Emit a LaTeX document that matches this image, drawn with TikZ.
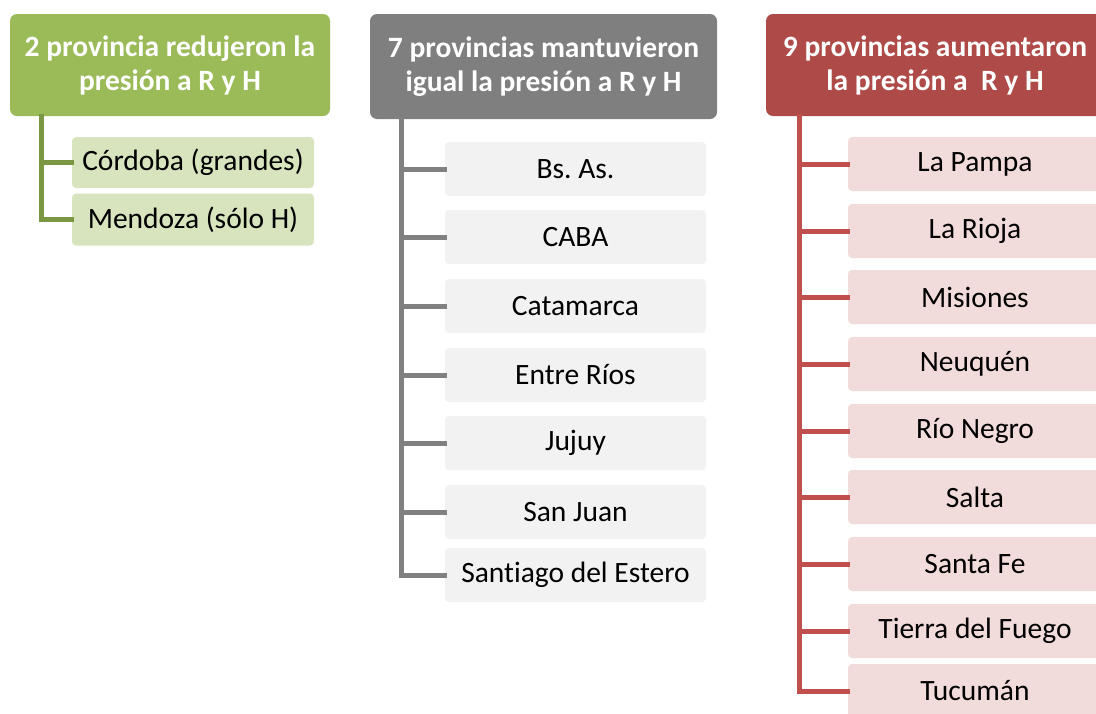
\documentclass[tikz,border=0pt]{standalone}
\usepackage{fontspec}
\setmainfont[Ligatures=NoCommon]{Carlito}
\frenchspacing
\definecolor{ghdr}{HTML}{9BBB59}
\definecolor{gbox}{HTML}{D7E4BD}
\definecolor{gln}{HTML}{7A9843}
\definecolor{khdr}{HTML}{7F7F7F}
\definecolor{kbox}{HTML}{F2F2F2}
\definecolor{kln}{HTML}{808080}
\definecolor{rhdr}{HTML}{AE4A47}
\definecolor{rbox}{HTML}{F2DCDB}
\definecolor{rln}{HTML}{C0504D}
\begin{document}
\begin{tikzpicture}[x=1pt,y=-1pt,
  hdr/.style={rounded corners=7pt,text=white,align=center,inner sep=0pt,
    font=\fontsize{29.5}{34}\selectfont\bfseries},
  kid/.style={rounded corners=4pt,inner sep=0pt,text=black,
    font=\fontsize{29.5}{34}\selectfont},
  conn/.style={line width=5pt,line cap=rect}]
\useasboundingbox (0,0) rectangle (1096,713);
\clip (0,0) rectangle (1096,713);
% headers
\node[hdr,fill=ghdr,minimum width=320pt,minimum height=102pt] (g0) at (170,65) {2 provincia redujeron la\\presión a R y H};
\node[hdr,fill=khdr,minimum width=347pt,minimum height=105pt] (k0) at (543.5,66.5) {7 provincias mantuvieron\\igual la presión a R y H};
\node[hdr,fill=rhdr,minimum width=338pt,minimum height=102pt] (r0) at (935,65) {9 provincias aumentaron\\la presión a\ \ R y H};
% green children
\node[kid,fill=gbox,minimum width=242pt,minimum height=51pt] (g1) at (193,162.5) {Córdoba (grandes)};
\node[kid,fill=gbox,minimum width=242pt,minimum height=52pt] (g2) at (193,219.5) {Mendoza (sólo H)};
% gray children
\foreach \n/\y/\t in {1/169/Bs. As.,2/237/CABA,3/306/Catamarca,4/375/Entre Ríos,5/443/Jujuy,6/512/San Juan,7/575/Santiago del Estero}
  \node[kid,fill=kbox,minimum width=261pt,minimum height=54pt] (k\n) at (575.5,\y) {\t};
% red children
\foreach \n/\y/\t in {1/164/La Pampa,2/231/La Rioja,3/297/Misiones,4/364/Neuquén,5/431/Río Negro,6/497/Salta,7/564/Santa Fe,8/631/Tierra del Fuego,9/691/Tucumán}
  \node[kid,fill=rbox,minimum width=254pt,minimum height=54pt] (r\n) at (975,\y) {\t};
% trunks
\coordinate (gt) at (g0.south -| 41,0);
\coordinate (kt) at (k0.south -| 401,0);
\coordinate (rt) at (r0.south -| 799,0);
\foreach \n in {1,2} \draw[conn,gln] (gt) |- (g\n.west);
\foreach \n in {1,...,7} \draw[conn,kln] (kt) |- (k\n.west);
\foreach \n in {1,...,9} \draw[conn,rln] (rt) |- (r\n.west);
\end{tikzpicture}
\end{document}
